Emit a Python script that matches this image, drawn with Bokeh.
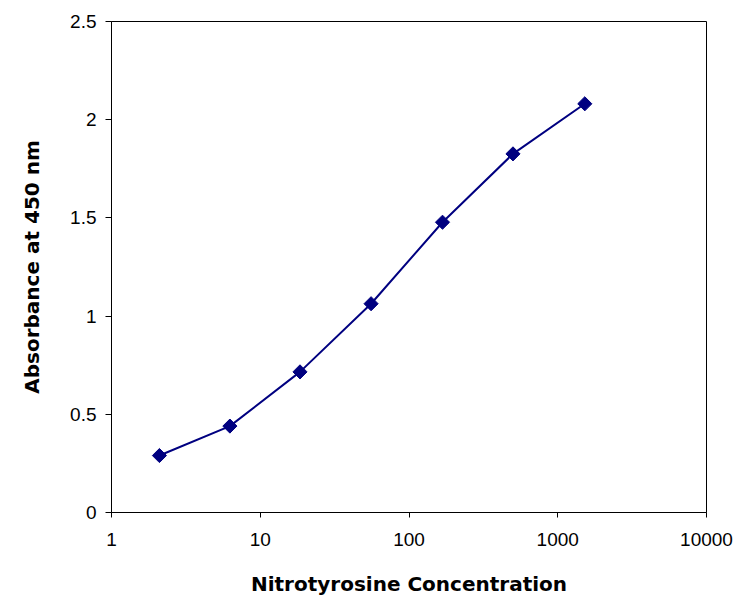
import numpy as np
from bokeh.plotting import figure
from bokeh.models import FixedTicker
from bokeh.embed import file_html
from bokeh.resources import INLINE

# Data
concentration = [2.1, 6.25, 18.5, 55.6, 168, 500, 1520]
absorbance = [0.29, 0.44, 0.716, 1.063, 1.478, 1.826, 2.081]

x_ticks = [1, 10, 100, 1000, 10000]
x_tick_labels = ["1", "10", "100", "1000", "10000"]
y_ticks = [0, 0.5, 1, 1.5, 2, 2.5]
y_tick_labels = ["0", "0.5", "1", "1.5", "2", "2.5"]

x_title = "Nitrotyrosine Concentration"
y_title = "Absorbance at 450 nm"

p = figure(width=753, height=598, x_axis_type="log",
           x_range=(1, 10000), y_range=(0, 2.5),
           output_backend="svg", toolbar_location=None,
           min_border_left=111, min_border_right=47,
           min_border_top=21, min_border_bottom=86)

p.background_fill_color = "white"
p.border_fill_color = "white"
p.outline_line_color = "black"
p.outline_line_width = 1
p.xgrid.visible = False
p.ygrid.visible = False

p.line(concentration, absorbance, line_color="#000080", line_width=2)
p.scatter(concentration, absorbance, marker="square", angle=np.pi / 4,
          size=10, fill_color="#000080", line_color="#000080")

xa = p.xaxis[0]
xa.ticker = FixedTicker(ticks=x_ticks, minor_ticks=[])
xa.major_label_overrides = {t: l for t, l in zip(x_ticks, x_tick_labels)}
xa.major_tick_out = 5
xa.major_tick_in = 0
xa.minor_tick_out = 0
xa.minor_tick_in = 0
xa.major_label_standoff = 15
xa.axis_line_color = "black"
xa.major_tick_line_color = "black"
xa.major_label_text_font = "Liberation Sans"
xa.major_label_text_font_size = "19px"
xa.major_label_text_color = "black"
xa.axis_label = x_title
xa.axis_label_text_font = "DejaVu Sans"
xa.axis_label_text_font_style = "bold"
xa.axis_label_text_font_size = "20px"
xa.axis_label_text_color = "black"
xa.axis_label_standoff = 23

ya = p.yaxis[0]
ya.ticker = FixedTicker(ticks=y_ticks, minor_ticks=[])
ya.major_label_overrides = {t: l for t, l in zip(y_ticks, y_tick_labels)}
ya.major_tick_out = 6
ya.major_tick_in = 0
ya.minor_tick_out = 0
ya.minor_tick_in = 0
ya.major_label_standoff = 9
ya.axis_line_color = "black"
ya.major_tick_line_color = "black"
ya.major_label_text_font = "Liberation Sans"
ya.major_label_text_font_size = "19px"
ya.major_label_text_color = "black"
ya.axis_label = y_title
ya.axis_label_text_font = "DejaVu Sans"
ya.axis_label_text_font_style = "bold"
ya.axis_label_text_font_size = "20px"
ya.axis_label_text_color = "black"
ya.axis_label_standoff = 23

open("out.html", "w").write(file_html(p, INLINE))
